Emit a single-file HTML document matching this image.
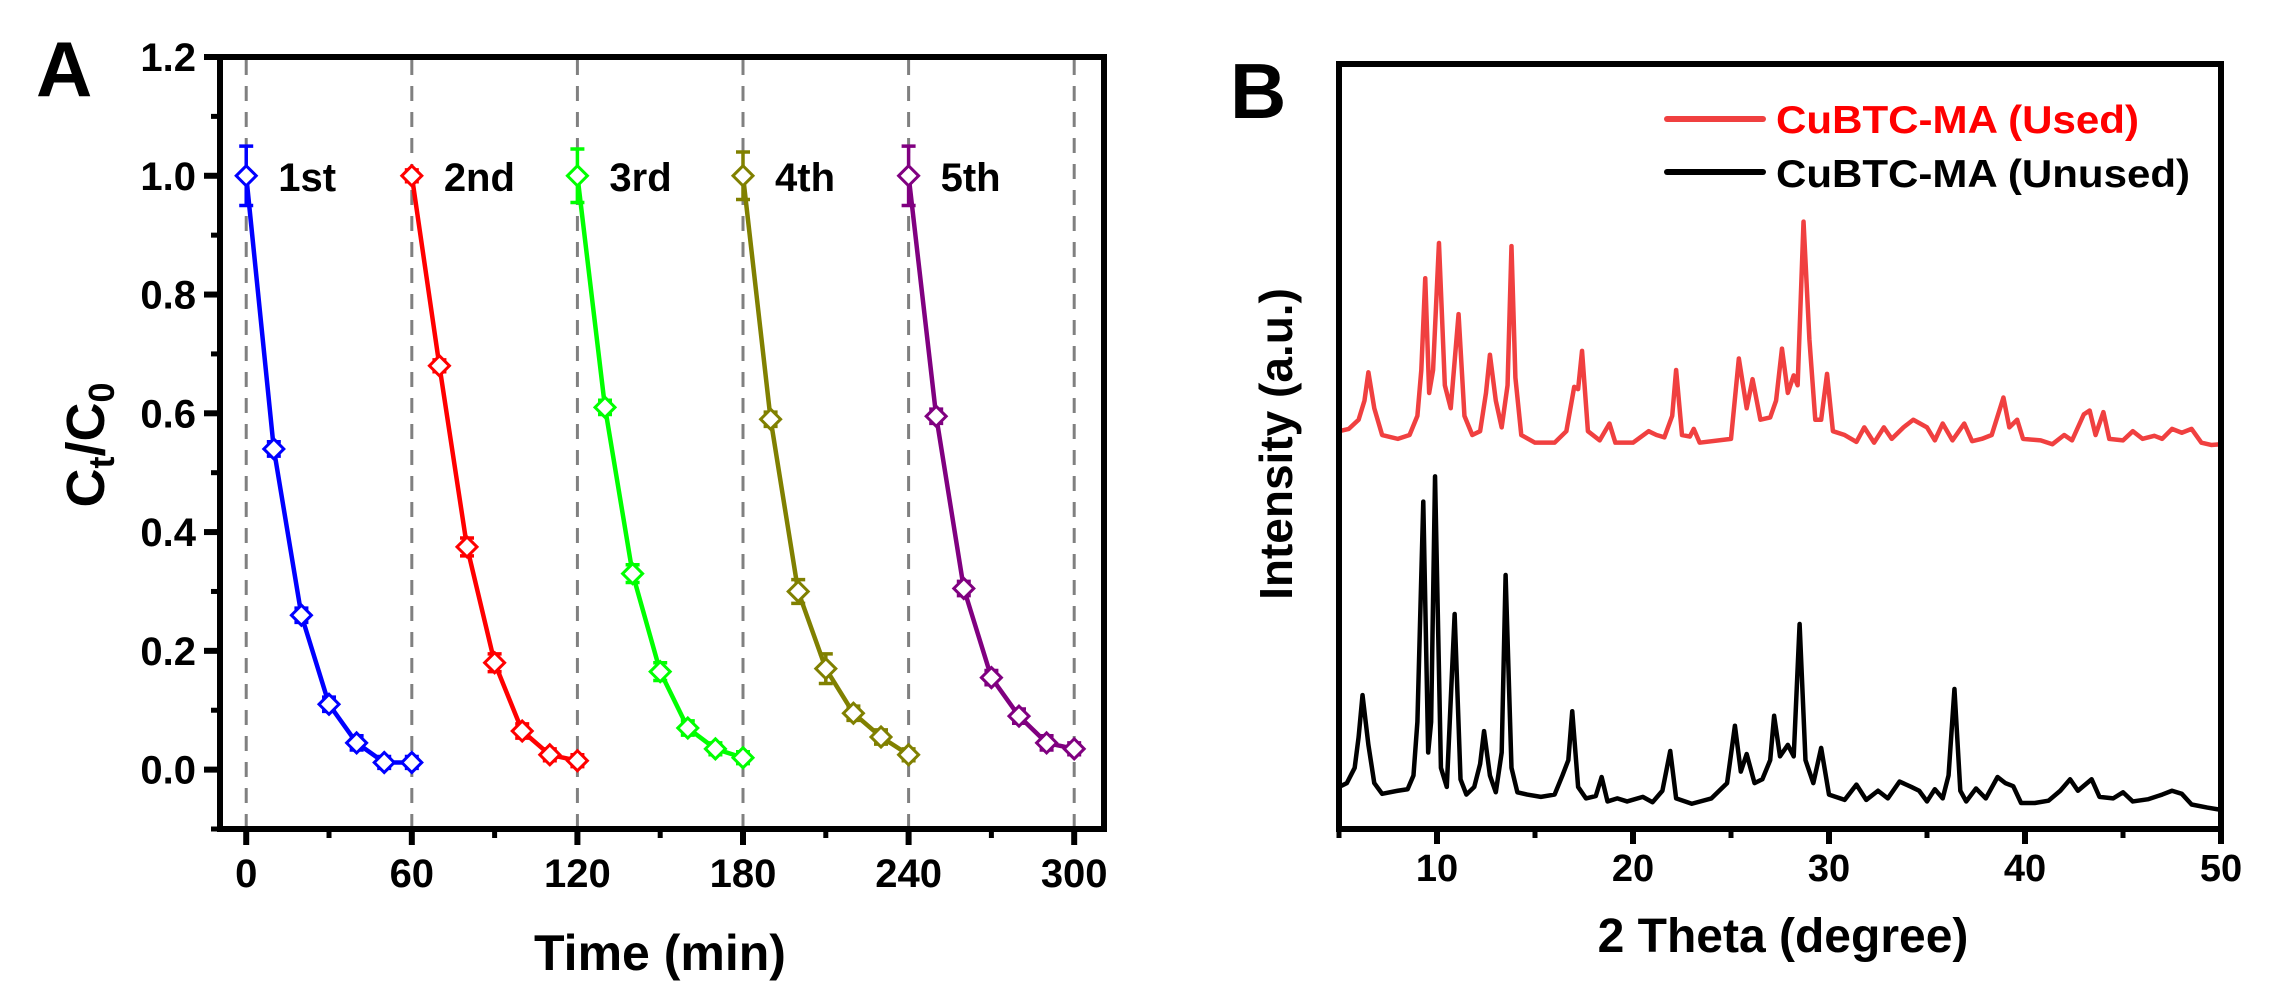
<!DOCTYPE html>
<html><head><meta charset="utf-8"><style>
html,body{margin:0;padding:0;background:#fff;}
svg{display:block;font-family:"Liberation Sans",Arial,sans-serif;font-weight:bold;}
</style></head><body>
<svg id="fig" width="2271" height="998" viewBox="0 0 2271 998" xmlns="http://www.w3.org/2000/svg">
<g id="panelA"></g>
<g id="panelB"></g>
</svg>
<script>
// ---------- Panel A data ----------
const cycleNames = ["1st","2nd","3rd","4th","5th"];
const cycleColors = ["#0000ff","#ff0000","#00ff00","#808000","#800080"];
const cycleTimes = [
  [0,10,20,30,40,50,60],
  [60,70,80,90,100,110,120],
  [120,130,140,150,160,170,180],
  [180,190,200,210,220,230,240],
  [240,250,260,270,280,290,300]
];
const cycle1 = [1.0,0.54,0.26,0.11,0.045,0.012,0.012];
const cycle2 = [1.0,0.68,0.375,0.18,0.065,0.025,0.015];
const cycle3 = [1.0,0.61,0.33,0.165,0.07,0.035,0.02];
const cycle4 = [1.0,0.59,0.30,0.17,0.095,0.055,0.025];
const cycle5 = [1.0,0.595,0.305,0.155,0.09,0.045,0.035];
const err1 = [0.05,0.012,0.012,0.012,0.012,0.01,0.01];
const err2 = [0.01,0.01,0.015,0.015,0.012,0.01,0.01];
const err3 = [0.045,0.012,0.015,0.015,0.012,0.01,0.01];
const err4 = [0.04,0.012,0.02,0.025,0.012,0.012,0.01];
const err5 = [0.05,0.012,0.012,0.012,0.012,0.012,0.01];
const xTicksA = [0,60,120,180,240,300];
const xMinorA = [30,90,150,210,270];
const yTicksA = [0.0,0.2,0.4,0.6,0.8,1.0,1.2];
const yMinorA = [-0.1,0.1,0.3,0.5,0.7,0.9,1.1];

// ---------- Panel B data (hand-traced 2theta, intensity a.u.) ----------
const usedTheta = [5.0,5.5,6.0,6.3,6.5,6.8,7.2,8.0,8.6,9.0,9.2,9.4,9.6,9.8,10.1,10.4,10.7,11.1,11.4,11.8,12.2,12.5,12.7,13.0,13.3,13.6,13.8,14.0,14.3,15.0,16.0,16.6,17.0,17.2,17.4,17.7,18.3,18.8,19.1,20.0,20.8,21.2,21.6,22.0,22.2,22.5,22.9,23.1,23.4,25.0,25.4,25.8,26.1,26.5,27.0,27.3,27.6,27.9,28.2,28.4,28.7,29.0,29.3,29.6,29.9,30.2,30.8,31.4,31.8,32.3,32.8,33.2,33.8,34.3,35.0,35.4,35.8,36.3,36.9,37.3,37.8,38.3,38.9,39.2,39.6,39.9,40.8,41.4,42.0,42.4,43.0,43.3,43.6,44.0,44.3,45.0,45.5,46.0,46.6,47.0,47.5,48.0,48.5,49.0,49.5,50.0];
const usedInt = [52.0,52.3,53.5,56,59.7,55,51.5,51,51.5,54,60,72,57,60,76.6,58,55,67.3,54,51.5,52,57,62,56,52.5,58,76.2,59,51.5,50.5,50.5,52,57.8,57.5,62.5,52,50.8,53,50.5,50.5,52,51.5,51.2,54,60,51.5,51.3,52.3,50.5,51,61.5,55,58.8,53.5,53.8,56,62.8,57,59.3,58,79.4,64,53.5,53.5,59.5,52,51.5,50.6,52.5,50.5,52.5,51,52.5,53.5,52.5,50.8,53,50.8,53,50.7,51,51.5,56.4,52.5,53.5,51,50.8,50.3,51.5,50.8,54.2,54.7,51.5,54.5,51,50.8,52,51,51.4,51,52.3,51.8,52.3,50.5,50.2,50.3];
const unusedTheta = [5.0,5.4,5.8,6.0,6.2,6.5,6.8,7.2,8.0,8.5,8.8,9.0,9.3,9.55,9.7,9.9,10.2,10.5,10.9,11.2,11.5,11.9,12.2,12.4,12.7,13.0,13.3,13.5,13.8,14.1,14.6,15.3,16.0,16.4,16.7,16.9,17.2,17.6,18.1,18.4,18.7,19.2,19.7,20.5,21.0,21.5,21.9,22.2,23.0,24.0,24.8,25.2,25.5,25.8,26.2,26.6,27.0,27.2,27.5,27.9,28.2,28.5,28.8,29.2,29.6,30.0,30.8,31.4,31.9,32.5,33.0,33.6,34.2,34.6,35.0,35.4,35.8,36.1,36.4,36.7,37.0,37.5,38.0,38.6,39.0,39.4,39.8,40.5,41.2,41.8,42.3,42.7,43.4,43.8,44.5,45.0,45.5,46.3,47.0,47.5,48.0,48.5,49.3,50.0];
const unusedInt = [5.5,6.0,8,12,17.5,11,6,4.6,5.0,5.2,7,14,42.8,10,14,46.1,8,5.5,28.1,6.5,4.5,5.5,8.5,12.8,7,4.8,10,33.2,8,4.8,4.5,4.2,4.5,7,9,15.4,5.5,4.0,4.3,6.8,3.6,4,3.6,4.2,3.5,5,10.2,4.0,3.3,4,6,13.5,7.5,9.8,6,6.5,9,14.8,9.5,11,9.5,26.8,9,6,10.6,4.5,3.8,5.8,3.8,5.0,4.0,6.2,5.5,5,3.6,5.2,4.0,7,18.3,5,3.6,5.3,4.0,6.8,6,5.6,3.4,3.4,3.7,5,6.5,5,6.5,4.2,4.0,4.8,3.6,3.9,4.5,5.0,4.6,3.2,2.8,2.5];
const xTicksB = [10,20,30,40,50];
const xMinorB = [5,15,25,35,45];
const seriesBNames = ["CuBTC-MA (Used)","CuBTC-MA (Unused)"];

// ---------- helpers ----------
const NS = "http://www.w3.org/2000/svg";
function mk(parent, tag, attrs, text){
  const e = document.createElementNS(NS, tag);
  for (const k in attrs) e.setAttribute(k, attrs[k]);
  if (text !== undefined) e.textContent = text;
  parent.appendChild(e);
  return e;
}

// ---------- Panel A ----------
(function(){
  const g = document.getElementById('panelA');
  const L=220, R=1104, T=57, B=829;
  const xmin=-9.5, xmax=310.8, ymin=-0.1, ymax=1.2;
  const sx = v => L + (v-xmin)/(xmax-xmin)*(R-L);
  const sy = v => B - (v-ymin)/(ymax-ymin)*(B-T);

  let t = mk(g,'text',{x:36,y:96,'font-size':78});
  t.textContent='A';
  
  

  // dashed lines
  xTicksA.forEach(v=>{
    const l = mk(g,'line',{x1:sx(v),x2:sx(v),y1:T+3,y2:B-3,stroke:'#808080','stroke-width':3,'stroke-dasharray':'15,11'});
    
    
  });

  // series
  const vals=[cycle1,cycle2,cycle3,cycle4,cycle5];
  const errs=[err1,err2,err3,err4,err5];
  vals.forEach((ys,i)=>{
    const col=cycleColors[i];
    const sg = mk(g,'g',{});
    
    
    const pts = ys.map((y,j)=>sx(cycleTimes[i][j])+','+sy(y)).join(' ');
    const pl = mk(sg,'polyline',{points:pts,fill:'none',stroke:col,'stroke-width':4.5,'stroke-linejoin':'round'});
    
    
    ys.forEach((y,j)=>{
      const x=sx(cycleTimes[i][j]), yy=sy(y), e=errs[i][j];
      const eb = mk(sg,'path',{d:`M${x},${sy(y+e)}V${sy(y-e)}M${x-7},${sy(y+e)}H${x+7}M${x-7},${sy(y-e)}H${x+7}`,stroke:col,'stroke-width':3.5,fill:'none'});
      
      
      const m = mk(sg,'path',{d:`M${x},${yy-10}L${x+10},${yy}L${x},${yy+10}L${x-10},${yy}Z`,fill:'#fff',stroke:col,'stroke-width':3});
      
      
    });
    const lb = mk(sg,'text',{x:sx(cycleTimes[i][0])+32,y:sy(1.0)+15,'font-size':40},cycleNames[i]);
    
    
  });

  // frame
  const fr = mk(g,'rect',{x:L,y:T,width:R-L,height:B-T,fill:'none',stroke:'#000','stroke-width':6});
  
  

  // ticks
  const ax = mk(g,'g',{});
  
  
  xTicksA.forEach(v=>{
    mk(ax,'line',{x1:sx(v),x2:sx(v),y1:B,y2:B+16,stroke:'#000','stroke-width':6});
    const tl = mk(ax,'text',{x:sx(v),y:B+58,'font-size':40,'text-anchor':'middle'},String(v));
    
    
  });
  xMinorA.forEach(v=>mk(ax,'line',{x1:sx(v),x2:sx(v),y1:B,y2:B+9,stroke:'#000','stroke-width':5}));
  const ay = mk(g,'g',{});
  
  
  yTicksA.forEach(v=>{
    mk(ay,'line',{x1:L-16,x2:L,y1:sy(v),y2:sy(v),stroke:'#000','stroke-width':6});
    const tl = mk(ay,'text',{x:L-24,y:sy(v)+14,'font-size':40,'text-anchor':'end'},v.toFixed(1));
    
    
  });
  yMinorA.forEach(v=>mk(ay,'line',{x1:L-9,x2:L,y1:sy(v),y2:sy(v),stroke:'#000','stroke-width':5}));

  const xt = mk(g,'text',{x:660,y:970,'font-size':50,'text-anchor':'middle'},'Time (min)');
  
  
  const yt = mk(g,'text',{transform:'translate(104,445) rotate(-90)','font-size':54,'text-anchor':'middle'});
  
  
  mk(yt,'tspan',{},'C');
  mk(yt,'tspan',{'font-size':36,dy:10},'t');
  mk(yt,'tspan',{dy:-10},'/C');
  mk(yt,'tspan',{'font-size':36,dy:10},'0');
})();

// ---------- Panel B ----------
(function(){
  const g = document.getElementById('panelB');
  const L=1339, R=2221, T=64, B=829;
  const xmin=5, xmax=50, ymin=0, ymax=100;
  const sx = v => L + (v-xmin)/(xmax-xmin)*(R-L);
  const sy = v => B - (v-ymin)/(ymax-ymin)*(B-T);

  const t = mk(g,'text',{x:1230,y:118,'font-size':78},'B');
  
  

  const p1 = mk(g,'polyline',{points:usedTheta.map((x,i)=>sx(x)+','+sy(usedInt[i])).join(' '),fill:'none',stroke:'#f04040','stroke-width':4.5,'stroke-linejoin':'round'});
  
  
  const p2 = mk(g,'polyline',{points:unusedTheta.map((x,i)=>sx(x)+','+sy(unusedInt[i])).join(' '),fill:'none',stroke:'#000','stroke-width':4.5,'stroke-linejoin':'round'});
  
  

  const fr = mk(g,'rect',{x:L,y:T,width:R-L,height:B-T,fill:'none',stroke:'#000','stroke-width':6});
  
  

  const ax = mk(g,'g',{});
  
  
  xTicksB.forEach(v=>{
    mk(ax,'line',{x1:sx(v),x2:sx(v),y1:B,y2:B+15,stroke:'#000','stroke-width':6});
    const tl = mk(ax,'text',{x:sx(v),y:B+52,'font-size':38,'text-anchor':'middle'},String(v));
    
    
  });
  xMinorB.forEach(v=>mk(ax,'line',{x1:sx(v),x2:sx(v),y1:B,y2:B+9,stroke:'#000','stroke-width':5}));

  const xt = mk(g,'text',{x:1783,y:952,'font-size':48,'text-anchor':'middle'},'2 Theta (degree)');
  
  
  const yt = mk(g,'text',{transform:'translate(1292,444) rotate(-90)','font-size':46,'text-anchor':'middle'},'Intensity (a.u.)');
  
  

  const lg = mk(g,'g',{});
  
  
  const l1 = mk(lg,'line',{x1:1667,x2:1763,y1:119,y2:119,stroke:'#f04040','stroke-width':6,'stroke-linecap':'round'});
  
  
  const t1 = mk(lg,'text',{x:1776,y:133,'font-size':39,fill:'#ff0000',textLength:363,lengthAdjust:'spacingAndGlyphs'},seriesBNames[0]);
  
  
  const l2 = mk(lg,'line',{x1:1667,x2:1763,y1:172,y2:172,stroke:'#000','stroke-width':6,'stroke-linecap':'round'});
  
  
  const t2 = mk(lg,'text',{x:1776,y:187,'font-size':39,fill:'#000',textLength:414,lengthAdjust:'spacingAndGlyphs'},seriesBNames[1]);
  
  
})();
</script>
</body></html>
